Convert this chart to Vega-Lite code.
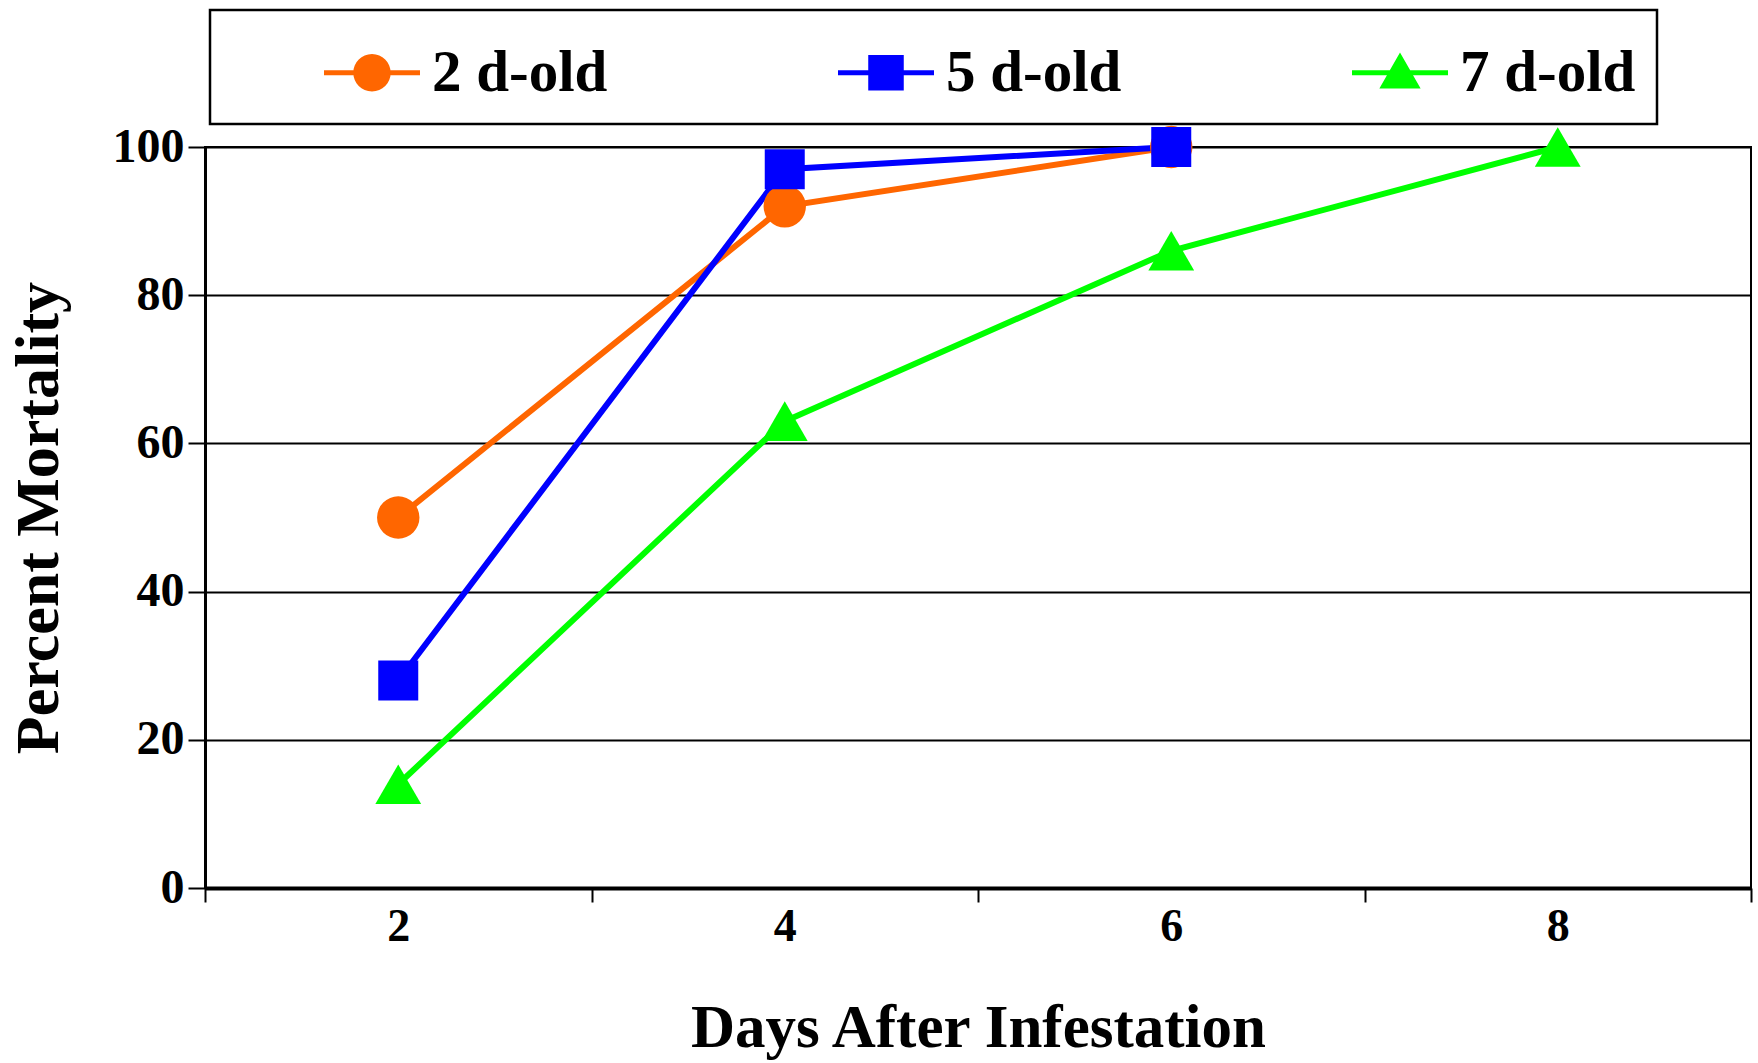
{
  "$schema": "https://vega.github.io/schema/vega-lite/v6.json",
  "width": 1546,
  "height": 741,
  "autosize": {"type": "none"},
  "padding": {"left": 205, "top": 147, "right": 7, "bottom": 175},
  "background": "white",
  "config": {
    "view": {"stroke": "black", "strokeWidth": 2},
    "font": "Liberation Serif"
  },
  "data": {
    "values": [
      {"series": "2 d-old", "day": 2, "mortality": 50},
      {"series": "2 d-old", "day": 4, "mortality": 92},
      {"series": "2 d-old", "day": 6, "mortality": 100},
      {"series": "5 d-old", "day": 2, "mortality": 28},
      {"series": "5 d-old", "day": 4, "mortality": 97},
      {"series": "5 d-old", "day": 6, "mortality": 100},
      {"series": "7 d-old", "day": 2, "mortality": 14},
      {"series": "7 d-old", "day": 4, "mortality": 63},
      {"series": "7 d-old", "day": 6, "mortality": 86},
      {"series": "7 d-old", "day": 8, "mortality": 100}
    ]
  },
  "encoding": {
    "x": {
      "field": "day", "type": "ordinal", "sort": [2, 4, 6, 8],
      "scale": {"type": "band", "paddingInner": 0, "paddingOuter": 0, "domain": [2, 4, 6, 8]},
      "axis": {
        "title": "Days After Infestation", "labelAngle": 0, "tickBand": "extent",
        "domainColor": "black", "domainWidth": 4, "tickColor": "black", "tickWidth": 2, "tickSize": 14,
        "labelFont": "Liberation Serif", "labelFontWeight": "bold", "labelFontSize": 46, "labelColor": "black", "labelPadding": 2,
        "titleFont": "Liberation Serif", "titleFontSize": 61, "titleFontWeight": "bold", "titleColor": "black", "titlePadding": 49
      }
    },
    "y": {
      "field": "mortality", "type": "quantitative",
      "scale": {"domain": [0, 100], "nice": false},
      "axis": {
        "title": "Percent Mortality", "values": [0, 20, 40, 60, 80, 100],
        "grid": true, "gridColor": "black", "gridWidth": 2, "gridOpacity": 1,
        "domainColor": "black", "domainWidth": 3, "tickColor": "black", "tickWidth": 2, "tickSize": 17,
        "labelFont": "Liberation Serif", "labelFontWeight": "bold", "labelFontSize": 48, "labelColor": "black", "labelPadding": 4,
        "titleFont": "Liberation Serif", "titleFontSize": 62, "titleFontWeight": "bold", "titleColor": "black", "titlePadding": 42
      }
    },
    "color": {
      "field": "series", "type": "nominal",
      "scale": {"domain": ["2 d-old", "5 d-old", "7 d-old"], "range": ["#FF6600", "#0000FF", "#00FF00"]},
      "legend": {
        "title": null, "orient": "none", "legendX": 5, "legendY": -137,
        "direction": "horizontal", "columns": 3, "symbolType": "circle",
        "strokeColor": "black", "fillColor": "white", "padding": 21, "cornerRadius": 0,
        "symbolSize": 9216, "symbolOffset": 93, "symbolStrokeWidth": 0, "symbolOpacity": 1,
        "labelFont": "Liberation Serif", "labelFontWeight": "bold", "labelFontSize": 59, "labelColor": "black", "labelLimit": 0,
        "labelOffset": 12, "columnPadding": 137,
        "encode": {
          "legend": {"update": {"strokeWidth": {"value": 2.5}}},
          "labels": {"update": {"dy": {"value": -6}}},
          "symbols": {
            "update": {
              "shape": {"signal": "datum.value === '2 d-old' ? 'M-1,-0.18H1V-0.08H-1Z M-0.39,-0.13A0.39,0.39 0 1,1 0.39,-0.13A0.39,0.39 0 1,1 -0.39,-0.13Z' : datum.value === '5 d-old' ? 'M-1,-0.18H1V-0.08H-1Z M-0.37,-0.5H0.37V0.24H-0.37Z' : 'M-1,-0.18H1V-0.08H-1Z M0,-0.55L0.43,0.2H-0.43Z'"},
              "fill": {"signal": "scale('color', datum.value)"},
              "strokeWidth": {"value": 0},
              "opacity": {"value": 1},
              "fillOpacity": {"value": 1}
            }
          }
        }
      }
    }
  },
  "layer": [
    {"mark": {"type": "line", "strokeWidth": 6}},
    {
      "transform": [{"filter": "datum.series === '2 d-old'"}],
      "mark": {"type": "point", "filled": true, "opacity": 1, "size": 1800, "shape": "circle"}
    },
    {
      "transform": [{"filter": "datum.series === '5 d-old'"}],
      "mark": {"type": "point", "filled": true, "opacity": 1, "size": 1600, "shape": "square"}
    },
    {
      "transform": [{"filter": "datum.series === '7 d-old'"}],
      "mark": {"type": "point", "filled": true, "opacity": 1, "size": 2100, "shape": "triangle-up"}
    }
  ]
}
